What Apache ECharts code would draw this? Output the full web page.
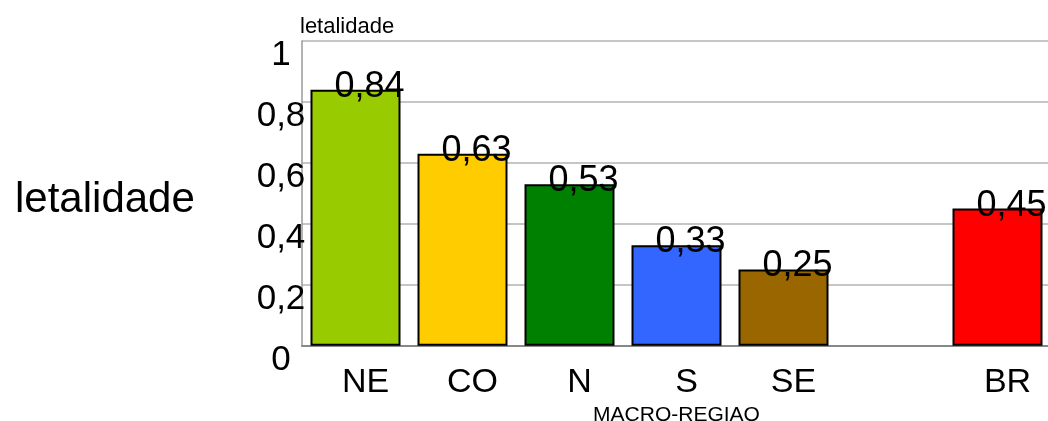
<!DOCTYPE html>
<html><head><meta charset="utf-8">
<script src="https://cdn.jsdelivr.net/npm/echarts@6/dist/echarts.min.js"></script>
<style>html,body{margin:0;padding:0;background:#fff}#c{width:1048px;height:421px}</style>
</head><body><div id="c"></div>
<script>
var categories = ['NE', 'CO', 'N', 'S', 'SE', '', 'BR'];
var values = [0.84, 0.63, 0.53, 0.33, 0.25, null, 0.45];
var colors = ['#99cc00', '#ffcc00', '#008000', '#3366ff', '#996600', '#ffffff', '#ff0000'];
var yTicks = [0, 0.2, 0.4, 0.6, 0.8, 1];

var font = 'Liberation Sans, Arial, sans-serif';
var chart = echarts.init(document.getElementById('c'), null, {renderer: 'canvas'});
chart.setOption({
  animation: false,
  title: {
    text: 'letalidade', left: 10, top: 174,
    textStyle: {fontFamily: font, fontSize: 42, fontWeight: 'normal', color: '#000'}
  },
  grid: {left: 302, right: -3, top: 41, bottom: 75.3, containLabel: false,
         outerBoundsMode: 'none',
         show: true, borderColor: '#a0a0a0', borderWidth: 0},
  xAxis: {
    type: 'category', data: categories,
    name: 'MACRO-REGIAO', nameLocation: 'middle', nameGap: 44,
    nameTextStyle: {fontFamily: font, fontSize: 21, color: '#000'},
    axisLine: {lineStyle: {color: '#888888', width: 2}},
    axisTick: {show: false},
    axisLabel: {fontFamily: font, fontSize: 34, color: '#000', margin: 20, interval: 0,
                padding: [0, 0, 0, 20]}
  },
  yAxis: {
    type: 'value', min: 0, max: 1, interval: 0.2,
    name: 'letalidade', nameLocation: 'end', nameGap: 3,
    nameTextStyle: {fontFamily: font, fontSize: 22, color: '#000', align: 'left', padding: [0, 0, 0, -2]},
    axisLine: {show: true, lineStyle: {color: '#999999', width: 1.5}},
    axisTick: {show: false},
    splitLine: {lineStyle: {color: '#b3b3b3', width: 1.5}},
    axisLabel: {
      fontFamily: font, fontSize: 35, color: '#000', margin: 21,
      align: 'center', verticalAlign: 'top', padding: [-3, 0, 0, 0],
      formatter: function (v) {
        var t = yTicks.find(function (x) { return Math.abs(x - v) < 1e-9; });
        return t === undefined ? '' : String(t).replace('.', ',');
      }
    }
  },
  series: [{
    type: 'bar', barWidth: 90,
    data: values.map(function (v, i) {
      return v === null ? '-' : {value: v, itemStyle: {color: colors[i]}};
    }),
    itemStyle: {borderColor: '#000', borderWidth: 2},
    label: {
      show: true, position: 'top', distance: 0, offset: [14, 15],
      fontFamily: font, fontSize: 36, color: '#000',
      formatter: function (p) { return String(p.value).replace('.', ','); }
    }
  }]
});
</script></body></html>
